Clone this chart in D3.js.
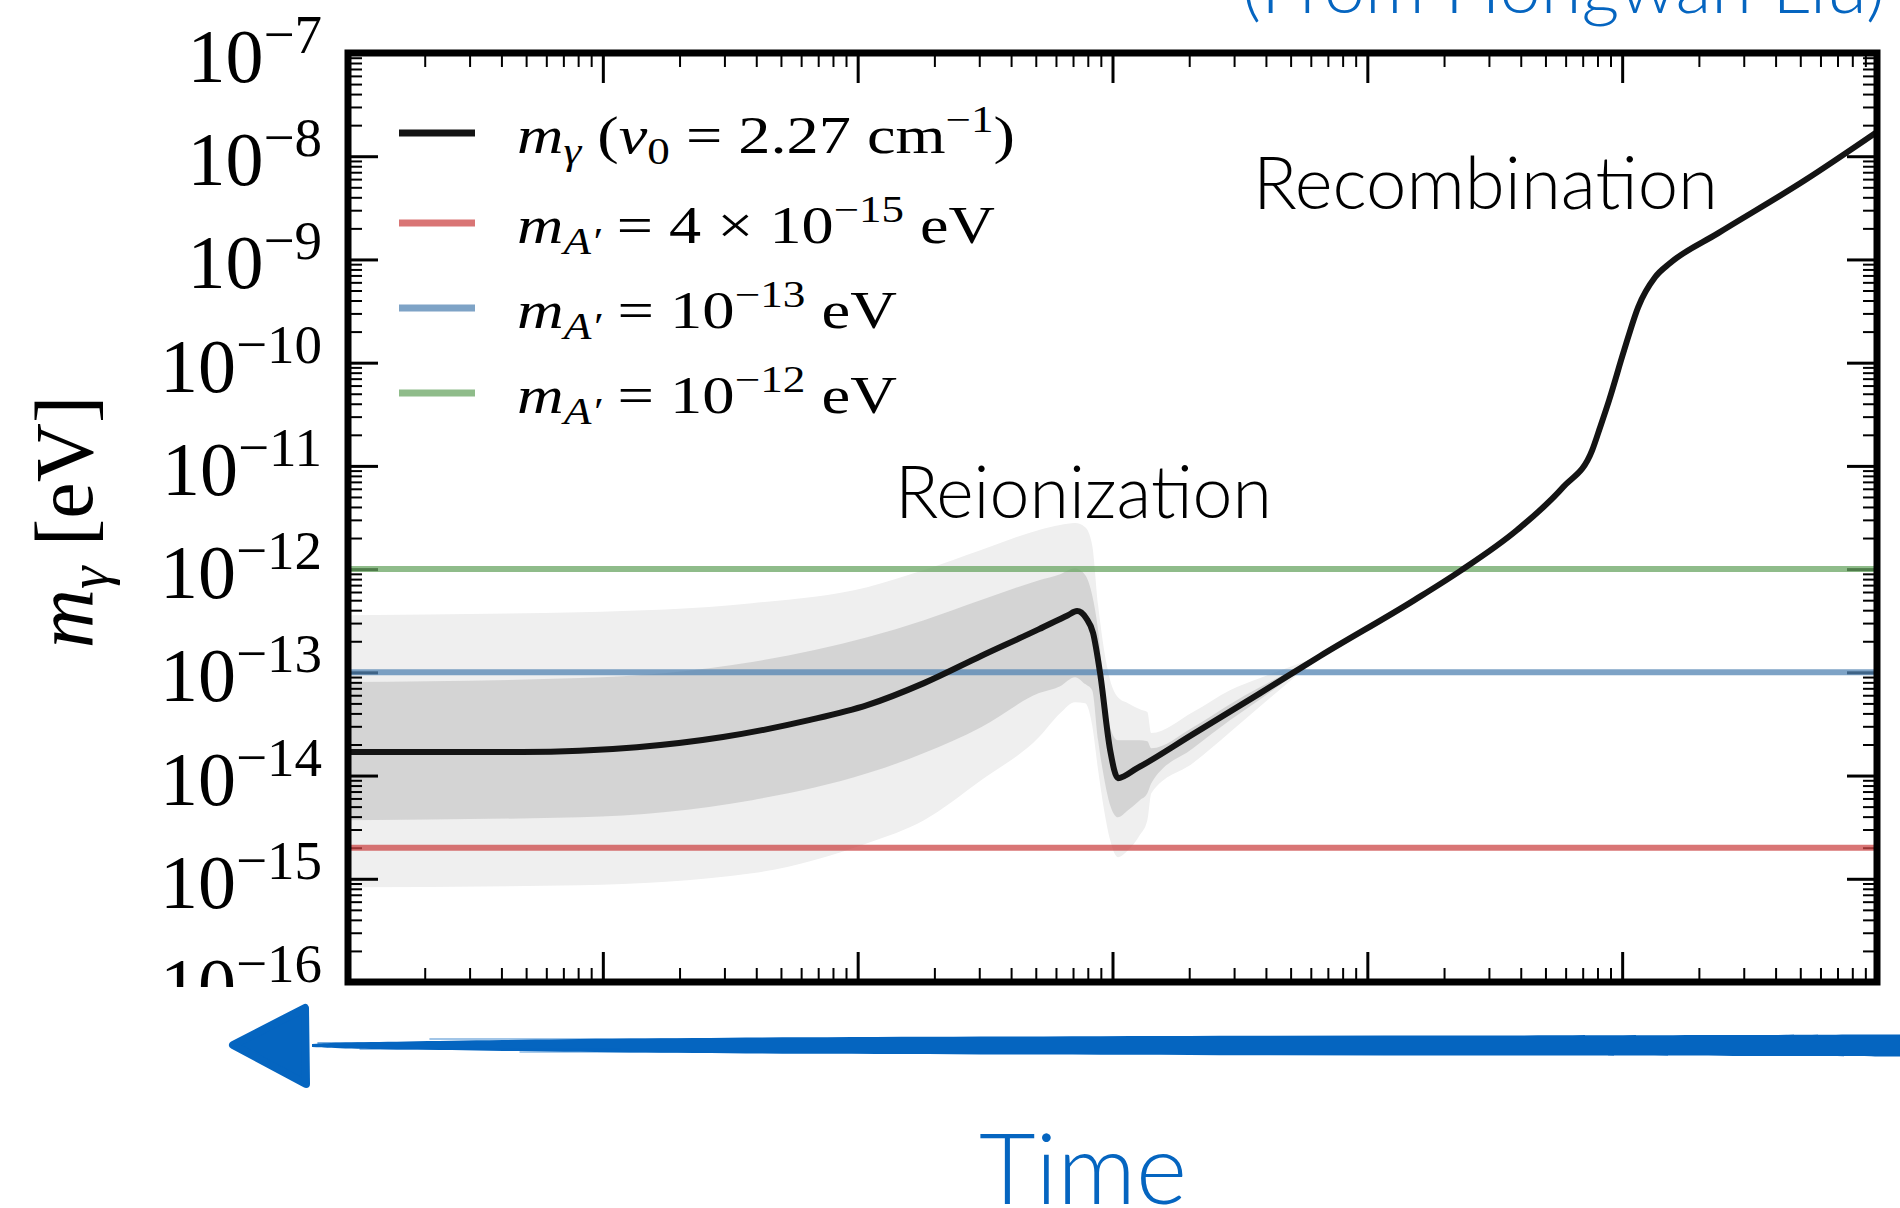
<!DOCTYPE html>
<html>
<head>
<meta charset="utf-8">
<script src="https://cdn.jsdelivr.net/npm/d3@7"></script>
<style>
  html, body { margin: 0; padding: 0; background: #fff; }
  svg { display: block; }
</style>
</head>
<body>
<svg id="chart" width="1900" height="1208"></svg>
<script>
// Photon plasma mass m_gamma(z) for nu_0 = 2.27 cm^-1
const zCurve = [0.01, 0.0482, 0.136, 0.296, 0.644, 1.09, 1.82, 3.05, 5.15, 6.69, 7.26, 7.88, 8.39, 8.94, 9.79, 10.5, 12.5, 20.7, 38.0, 65.3, 153, 231, 387, 587, 763, 820, 889, 1018, 1156, 1348, 1543, 2382, 5228, 10000];
const mCurve = [1.69e-14, 1.69e-14, 1.88e-14, 2.36e-14, 3.44e-14, 4.81e-14, 7.86e-14, 1.44e-13, 2.62e-13, 3.58e-13, 3.92e-13, 3.35e-13, 2.40e-13, 9.82e-14, 1.76e-14, 9.44e-15, 1.18e-14, 2.52e-14, 6.29e-14, 1.44e-13, 5.01e-13, 9.56e-13, 2.39e-12, 6.23e-12, 1.42e-11, 2.38e-11, 4.34e-11, 1.32e-10, 3.46e-10, 6.75e-10, 9.23e-10, 1.80e-9, 5.88e-9, 1.72e-8];

// Uncertainty bands on a shared redshift grid (outer = 2 sigma, inner = 1 sigma)
const zBand = [0.01, 0.0813, 0.385, 1.09, 1.82, 3.05, 5.15, 6.23, 7.13, 7.81, 8.32, 8.78, 9.27, 9.79, 10.5, 11.5, 12.8, 13.7, 14.2, 20.7, 28.9, 38.0, 65.3];
const outerHi = [3.58e-13, 3.83e-13, 4.68e-13, 6.69e-13, 9.78e-13, 1.53e-12, 2.39e-12, 2.67e-12, 2.79e-12, 2.55e-12, 1.71e-12, 4.48e-13, 1.64e-13, 8.40e-14, 5.75e-14, 5.03e-14, 4.40e-14, 4.12e-14, 2.58e-14, 4.12e-14, 6.72e-14, 8.79e-14, 1.44e-13];
const innerHi = [8.04e-14, 8.79e-14, 1.26e-13, 2.19e-13, 3.20e-13, 5.01e-13, 7.82e-13, 8.94e-13, 1.02e-12, 8.75e-13, 5.60e-13, 2.56e-13, 6.72e-14, 2.94e-14, 2.20e-14, 2.20e-14, 2.20e-14, 2.15e-14, 1.84e-14, 2.94e-14, 4.92e-14, 7.19e-14, 1.44e-13];
const innerLo = [3.70e-15, 3.95e-15, 5.78e-15, 1.05e-14, 1.65e-14, 2.94e-14, 6.29e-14, 7.35e-14, 8.98e-14, 7.69e-14, 6.72e-14, 2.20e-14, 9.44e-15, 5.17e-15, 3.95e-15, 4.62e-15, 5.78e-15, 6.75e-15, 8.44e-15, 1.84e-14, 3.44e-14, 5.50e-14, 1.44e-13];
const outerLo = [8.29e-16, 8.67e-16, 1.13e-15, 2.21e-15, 3.70e-15, 9.03e-15, 2.36e-14, 4.02e-14, 5.14e-14, 5.03e-14, 3.08e-14, 1.13e-14, 4.62e-15, 2.37e-15, 1.62e-15, 1.89e-15, 2.65e-15, 3.70e-15, 6.75e-15, 1.32e-14, 2.63e-14, 4.70e-14, 1.44e-13];

// Dark photon mass levels (horizontal lines)
const darkPhotonLevels = [2e-15, 1e-13, 1e-12];
const darkPhotonColors = ["rgb(204,71,71)", "rgb(83,132,179)", "rgb(106,166,99)"];

// Axis decades
const xDecades = [-2, -1, 0, 1, 2, 3, 4];
const yDecades = [-7, -8, -9, -10, -11, -12, -13, -14, -15, -16];

// Legend entries: [text, style]  (i = italic, sub/isub = subscript, sup = superscript)
const legendCurve = [["m", "i"], ["γ", "isub"], [" (", "n"], ["ν", "i"], ["0", "sub"], [" = 2.27 cm", "n"], ["−1", "sup"], [")", "n"]];
const legendRed = [["m", "i"], ["A′", "isub"], [" = 4 × 10", "n"], ["−15", "sup"], [" eV", "n"]];
const legendBlue = [["m", "i"], ["A′", "isub"], [" = 10", "n"], ["−13", "sup"], [" eV", "n"]];
const legendGreen = [["m", "i"], ["A′", "isub"], [" = 10", "n"], ["−12", "sup"], [" eV", "n"]];

const annotations = ["Reionization", "Recombination"];
const timeLabel = "Time";
const creditLabel = "(From Hongwan Liu)";

// ---------------------------------------------------------------
const svg = d3.select("#chart");
const L = 348, R = 1877, T = 53, B = 982;
const serif = "'Liberation Serif', 'DejaVu Serif', serif";
const sans = "Lato, 'Open Sans', sans-serif";
const blue = "#0565c0";

const x = d3.scaleLog().domain([1e-2, 1e4]).range([L, R]);
const y = d3.scaleLog().domain([1e-16, 1e-7]).range([B, T]);

const defs = svg.append("defs");
defs.append("clipPath").attr("id", "plotClip")
  .append("rect").attr("x", L).attr("y", T).attr("width", R - L).attr("height", B - T);
defs.append("clipPath").attr("id", "labelClip")
  .append("rect").attr("x", 0).attr("y", 0).attr("width", L).attr("height", 987);

const plot = svg.append("g").attr("clip-path", "url(#plotClip)");

// bands
const bandRows = zBand.map((z, i) => ({ z, oh: outerHi[i], ih: innerHi[i], il: innerLo[i], ol: outerLo[i] }));
const outerArea = d3.area().x(d => x(d.z)).y0(d => y(d.ol)).y1(d => y(d.oh)).curve(d3.curveMonotoneX);
const innerArea = d3.area().x(d => x(d.z)).y0(d => y(d.il)).y1(d => y(d.ih)).curve(d3.curveMonotoneX);
plot.append("path").datum(bandRows).attr("d", outerArea).attr("fill", "#efefef");
plot.append("path").datum(bandRows).attr("d", innerArea).attr("fill", "#d4d4d4");

// ticks (inward, on all four sides)
const xMajor = xDecades.map(e => Math.pow(10, e));
const xMinor = [];
xDecades.slice(0, -1).forEach(e => { for (let k = 2; k <= 9; k++) xMinor.push(k * Math.pow(10, e)); });
const yMajor = yDecades.map(e => Math.pow(10, e));
const yMinor = [];
yDecades.slice(1).forEach(e => { for (let k = 2; k <= 9; k++) yMinor.push(k * Math.pow(10, e)); });

function tickAxis(axisFn, scale, values, size, width, tx, ty) {
  const g = svg.append("g").attr("transform", `translate(${tx},${ty})`)
    .call(axisFn(scale).tickValues(values).tickSize(-size).tickFormat(""));
  g.select(".domain").remove();
  g.selectAll(".tick line").attr("stroke", "#000").attr("stroke-width", width);
  return g;
}
tickAxis(d3.axisBottom, x, xMinor, 14, 2, 0, B);
tickAxis(d3.axisBottom, x, xMajor, 30, 3, 0, B);
tickAxis(d3.axisTop, x, xMinor, 14, 2, 0, T);
tickAxis(d3.axisTop, x, xMajor, 30, 3, 0, T);
tickAxis(d3.axisLeft, y, yMinor, 14, 2, L, 0);
tickAxis(d3.axisLeft, y, yMajor, 30, 3, L, 0);
tickAxis(d3.axisRight, y, yMinor, 14, 2, R, 0);
tickAxis(d3.axisRight, y, yMajor, 30, 3, R, 0);

// dark photon levels, translucent over bands and ticks
const levels = svg.append("g").attr("clip-path", "url(#plotClip)");
levels.selectAll("line.level").data(darkPhotonLevels).join("line")
  .attr("class", "level")
  .attr("x1", L).attr("x2", R)
  .attr("y1", d => y(d)).attr("y2", d => y(d))
  .attr("stroke", (d, i) => darkPhotonColors[i])
  .attr("stroke-opacity", 0.75)
  .attr("stroke-width", 6);

// photon mass curve
const curve = d3.line().x(d => x(d[0])).y(d => y(d[1])).curve(d3.curveMonotoneX);
levels.append("path").datum(zCurve.map((z, i) => [z, mCurve[i]]))
  .attr("d", curve).attr("fill", "none")
  .attr("stroke", "#141414").attr("stroke-width", 6)
  .attr("stroke-linejoin", "round").attr("stroke-linecap", "round");

// frame
svg.append("rect").attr("x", L).attr("y", T).attr("width", R - L).attr("height", B - T)
  .attr("fill", "none").attr("stroke", "#000").attr("stroke-width", 7);

// y tick labels: 10^{-n}
const labels = svg.append("g").attr("clip-path", "url(#labelClip)");
yDecades.forEach(e => {
  const t = labels.append("text")
    .attr("x", 322).attr("y", y(Math.pow(10, e)) + 29)
    .attr("text-anchor", "end").attr("font-family", serif).attr("fill", "#000");
  t.append("tspan").attr("font-size", 76).text("10");
  t.append("tspan").attr("font-size", 55).attr("dy", -29).text("−" + Math.abs(e));
});

// rich math text from segments
function richText(g, segs, size) {
  const t = g.append("text").attr("font-family", serif).attr("font-size", size).attr("fill", "#000");
  let shift = 0;
  segs.forEach(([txt, st]) => {
    let target = 0, fs = size, italic = false;
    if (st === "i") italic = true;
    if (st === "sub" || st === "isub") { target = 0.2 * size; fs = 0.7 * size; italic = st === "isub"; }
    if (st === "sup") { target = -0.4 * size; fs = 0.7 * size; }
    t.append("tspan").attr("dy", target - shift).attr("font-size", fs)
      .attr("font-style", italic ? "italic" : "normal").text(txt);
    shift = target;
  });
  return t;
}
function fitWidth(t, x0, w) {
  const bw = t.node().getBBox().width;
  const sx = w / bw;
  t.attr("transform", `translate(${x0},0) scale(${sx},1) translate(${-x0},0)`);
}

// legend
const legendSegs = [legendCurve, legendRed, legendBlue, legendGreen];
const legendColors = ["#141414"].concat(darkPhotonColors);
const legendBase = [153, 243, 328, 413];
const legendWidth = [498, 478, 380, 380];
const legend = svg.append("g");
legendSegs.forEach((segs, i) => {
  legend.append("line").attr("x1", 399).attr("x2", 475)
    .attr("y1", legendBase[i] - 20).attr("y2", legendBase[i] - 20)
    .attr("stroke", legendColors[i]).attr("stroke-opacity", i === 0 ? 1 : 0.75)
    .attr("stroke-width", 7);
  const t = richText(legend, segs, 53).attr("x", 517).attr("y", legendBase[i]);
  fitWidth(t, 517, legendWidth[i]);
});

// axis label
const yl = svg.append("g").attr("transform", "translate(92,522) rotate(-90)");
richText(yl, [["m", "i"], ["γ", "isub"], [" [eV]", "n"]], 82)
  .attr("x", 0).attr("y", 0).attr("text-anchor", "middle");

// annotations
svg.append("text").attr("x", 895).attr("y", 518).text(annotations[0])
  .attr("font-family", sans).attr("font-weight", 300).attr("font-size", 72)
  .attr("textLength", 377).attr("lengthAdjust", "spacingAndGlyphs").attr("fill", "#000");
svg.append("text").attr("x", 1253).attr("y", 209).text(annotations[1])
  .attr("font-family", sans).attr("font-weight", 300).attr("font-size", 72)
  .attr("textLength", 465).attr("lengthAdjust", "spacingAndGlyphs").attr("fill", "#000");

// time arrow (brush stroke)
const arrow = svg.append("g").attr("fill", blue).attr("stroke", blue);
const shaft = [[312, 1.0], [340, 2.5], [400, 3.5], [500, 5], [620, 6.5], [800, 8], [1000, 8.5], [1250, 9.5], [1500, 9.5], [1750, 10], [1900, 10.5]];
const shaftArea = d3.area().x(d => d[0]).y0(d => 1046 + d[1]).y1(d => 1045 - d[1]).curve(d3.curveBasis);
arrow.append("path").datum(shaft).attr("d", shaftArea).attr("stroke", "none");
[[318, 470, 1043, 1.6, 0.7], [360, 620, 1049, 1.4, 0.55], [430, 760, 1039, 1.6, 0.5], [520, 900, 1052, 1.4, 0.45]].forEach(s => {
  arrow.append("line").attr("x1", s[0]).attr("x2", s[1]).attr("y1", s[2]).attr("y2", s[2])
    .attr("stroke-width", s[3]).attr("stroke-opacity", s[4]).attr("stroke-linecap", "round");
});
arrow.append("path").attr("d", "M233,1045 L305,1008 L306,1084 Z")
  .attr("stroke-width", 8).attr("stroke-linejoin", "round");

svg.append("text").attr("x", 979).attr("y", 1204).text(timeLabel)
  .attr("font-family", sans).attr("font-weight", 300).attr("font-size", 98)
  .attr("textLength", 208).attr("lengthAdjust", "spacingAndGlyphs").attr("fill", blue);

svg.append("text").attr("x", 1242).attr("y", 13).text(creditLabel)
  .attr("font-family", sans).attr("font-weight", 300).attr("font-size", 70)
  .attr("textLength", 643).attr("lengthAdjust", "spacingAndGlyphs").attr("fill", blue);
</script>
</body>
</html>
